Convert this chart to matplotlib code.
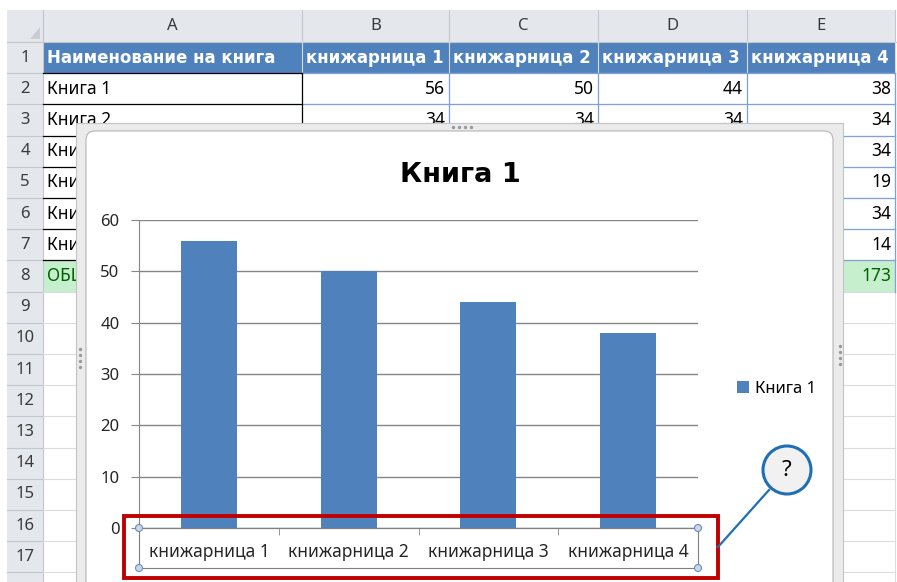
import matplotlib
matplotlib.use("Agg")
import matplotlib.pyplot as plt
from matplotlib.patches import Rectangle, FancyBboxPatch, Circle
import numpy as np

plt.rcParams['font.family'] = ['Noto Sans', 'DejaVu Sans']
BOLD = ['DejaVu Sans']

# ---- данни от таблицата ----
col_letters = ['A', 'B', 'C', 'D', 'E']
header = ['Наименование на книга', 'книжарница 1', 'книжарница 2', 'книжарница 3', 'книжарница 4']
books = ['Книга 1', 'Книга 2', 'Книга 3', 'Книга 4', 'Книга 5', 'Книга 6']
book1 = [56, 50, 44, 38]
book2 = [34, 34, 34, 34]
store4 = [38, 34, 34, 19, 34, 14]
total_label = 'ОБЩО'
total_store4 = 173
stores = header[1:]

W, H = 897, 582
col_x = [43, 302, 449, 598, 747, 895]      # граници на колоните (px)
ROW_H = 31.2
def row_top(r):
    return 42 + (r - 1) * ROW_H

fig = plt.figure(figsize=(W / 100, H / 100), dpi=100)

# ---- фон: лист на Excel ----
bg = fig.add_axes([0, 0, 1, 1], zorder=0)
bg.set_xlim(0, W)
bg.set_ylim(H, 0)
bg.axis('off')

HEAD_BG = '#e4e8ed'
HEAD_LINE = '#c2c7ce'
GRID = '#dadcde'

# частта от листа, която не е закрита от диаграмата
visible = Rectangle((0, 0), 76, H, transform=bg.transData)

# заглавен ред и номера на редовете
bg.add_patch(Rectangle((7, 10), W - 9, 32, fc=HEAD_BG, ec='none'))
bg.add_patch(Rectangle((7, 10), 36, H, fc=HEAD_BG, ec='none'))
bg.fill([30, 40, 40], [39, 39, 27], color='#c9ccd0', lw=0)
for x in col_x:
    bg.plot([x, x], [10, 42], color=HEAD_LINE, lw=0.8)
for i, c in enumerate(col_letters):
    bg.text((col_x[i] + col_x[i + 1]) / 2, 26, c, ha='center', va='center',
            fontsize=12, color='#3a3a3a')
bg.plot([7, W], [42, 42], color=HEAD_LINE, lw=0.8)
for r in range(1, 19):
    y0 = row_top(r)
    bg.plot([7, 43], [y0 + ROW_H, y0 + ROW_H], color=HEAD_LINE, lw=0.8)
    if r <= 17:
        bg.text(25, y0 + ROW_H / 2, str(r), ha='center', va='center',
                fontsize=12, color='#3a3a3a')
bg.plot([43, 43], [10, H], color=HEAD_LINE, lw=0.8)

# мрежа на клетките
for r in range(1, 19):
    y = row_top(r) + ROW_H
    bg.plot([43, col_x[-1]], [y, y], color=GRID, lw=0.8)
for x in col_x[1:]:
    bg.plot([x, x], [42, H], color=GRID, lw=0.8)

# ред 1 – синя заглавна лента
bg.add_patch(Rectangle((43, 42), col_x[-1] - 43, ROW_H, fc='#4f81bd', ec='none'))
for i, t in enumerate(header):
    bg.text(col_x[i] + 4, row_top(1) + ROW_H / 2, t, ha='left', va='center',
            fontsize=12, color='white', weight='bold', family=BOLD)

# ред 8 – общо
bg.add_patch(Rectangle((43, row_top(8)), col_x[-1] - 43, ROW_H, fc='#c6efce', ec='none'))
t8 = bg.text(47, row_top(8) + ROW_H / 2, total_label, ha='left', va='center',
             fontsize=12.5, color='#006100')
t8.set_clip_path(visible)
bg.text(col_x[5] - 4, row_top(8) + ROW_H / 2, str(total_store4), ha='right',
        va='center', fontsize=12.5, color='#006100')

# редове 2-7
for k, name in enumerate(books):
    r = k + 2
    yc = row_top(r) + ROW_H / 2
    tn = bg.text(47, yc, name, ha='left', va='center', fontsize=12.5, color='black')
    if r >= 4:
        tn.set_clip_path(visible)
    bg.text(col_x[5] - 4, yc, str(store4[k]), ha='right', va='center',
            fontsize=12.5, color='black')
for vals, r in [(book1, 2), (book2, 3)]:
    yc = row_top(r) + ROW_H / 2
    for j, v in enumerate(vals[:3]):
        bg.text(col_x[j + 2] - 4, yc, str(v), ha='right', va='center',
                fontsize=12.5, color='black')

# рамки на таблицата
for r in range(2, 9):
    y = row_top(r)
    bg.plot([43, 302], [y, y], color='black', lw=0.9)
    bg.plot([302, col_x[-1]], [y, y], color='#7fa2d3', lw=0.9)
bg.plot([302, 302], [row_top(2), row_top(8)], color='black', lw=0.9)
for x in col_x[2:]:
    bg.plot([x, x], [row_top(2), row_top(9)], color='#7fa2d3', lw=0.9)

# рамка на диаграмата
bg.add_patch(Rectangle((76, 123), 767, 480, fc='#ebebeb', ec='#c4c4c4', lw=0.8, zorder=5))
bg.add_patch(FancyBboxPatch((86, 131), 747, 470, boxstyle='round,pad=0,rounding_size=9',
                            fc='white', ec='#b5b5b5', lw=0.8, zorder=6))
bg.scatter([453, 459, 465, 471], [127] * 4, s=2, color='#9a9a9a', zorder=7)
bg.scatter([80] * 4, [349, 355, 361, 367], s=2, color='#9a9a9a', zorder=7)
bg.scatter([840] * 4, [346, 352, 358, 364], s=2, color='#9a9a9a', zorder=7)

# ---- диаграмата ----
PL, PR, PT, PB = 139, 698, 220, 528
ax = fig.add_axes([PL / W, (H - PB) / H, (PR - PL) / W, (PB - PT) / H], zorder=2)
ax.patch.set_alpha(0)
x = np.arange(len(stores))
ax.bar(x, book1, width=0.4, color='#4f81bd', zorder=3, label='Книга 1')
ax.set_xlim(-0.5, len(stores) - 0.5)
ax.set_ylim(0, 60)
ax.set_yticks(np.arange(0, 61, 10))
ax.yaxis.grid(True, color='#868686', lw=1)
ax.set_axisbelow(True)
for s in ['top', 'right']:
    ax.spines[s].set_visible(False)
for s in ['left', 'bottom']:
    ax.spines[s].set_color('#868686')
ax.set_xticks(x)
ax.set_xticklabels(stores)
ax.set_xticks(x[:-1] + 0.5, minor=True)
ax.tick_params(axis='x', which='major', length=0, pad=11, labelsize=12.5, labelcolor='#262626')
ax.tick_params(axis='x', which='minor', length=5, color='#868686', direction='out')
ax.tick_params(axis='y', length=6, color='#868686', pad=8, labelsize=12, labelcolor='#262626')
ax.legend(loc='center left', bbox_to_anchor=(729 / W, 1 - 389 / H),
          bbox_transform=fig.transFigure, frameon=False, fontsize=12,
          handlelength=0.7, handleheight=0.7, handletextpad=0.35, borderpad=0)
fig.text(460 / W, 1 - 175 / H, 'Книга 1', ha='center', va='center',
         fontsize=19.5, weight='bold', family=BOLD, color='black')

# ---- горен слой: маркировки ----
top = fig.add_axes([0, 0, 1, 1], zorder=3)
top.set_xlim(0, W)
top.set_ylim(H, 0)
top.axis('off')
top.patch.set_alpha(0)

top.add_patch(Rectangle((PL, PB), PR - PL, 40, fc='none', ec='#7f7f7f', lw=0.8))
for cx, cy in [(PL, PB), (PR, PB), (PL, PB + 40), (PR, PB + 40)]:
    top.add_patch(Circle((cx, cy), 3.5, fc='#c8d7ea', ec='#6f8fb8', lw=0.8))
top.add_patch(Rectangle((124, 516), 594, 62, fc='none', ec='#c00000', lw=2.8))
top.plot([718, 769], [547, 490], color='#1f6fb5', lw=1.6)
top.add_patch(Circle((787, 470), 24, fc='#f1f1f1', ec='#1f6fb5', lw=2.2))
top.text(787, 471, '?', ha='center', va='center', fontsize=16, color='black')

fig.savefig('out.png', dpi=100)
